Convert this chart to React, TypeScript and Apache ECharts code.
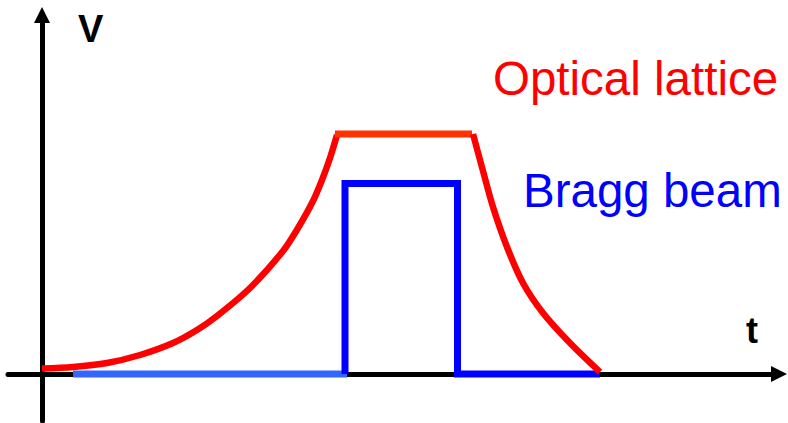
import React, { useEffect, useRef } from "react";
import * as echarts from "echarts";

// Axis ranges (arbitrary units; t = time, V = potential depth)
const T_MIN = -3.4;
const T_MAX = 73.7;
const V_MIN = -4.7;
const V_MAX = 35.9;

// Optical lattice ramp-up (exponential-like)
const latticeRise: [number, number][] = [
  [0, 0.55], [3.1, 0.7], [6.5, 1.1], [9.8, 1.9], [13.1, 3.1], [15.5, 4.4],
  [17.5, 5.8], [20.8, 8.6], [24.1, 12.3], [25.6, 14.6], [27.1, 17.3],
  [28.0, 19.4], [28.8, 21.6], [29.5, 23.9],
];
// Optical lattice plateau
const latticeFlat: [number, number][] = [[29.3, 24.0], [43.0, 24.0]];
// Optical lattice ramp-down
const latticeFall: [number, number][] = [
  [43.1, 24.0], [44.1, 20.3], [45.1, 16.7], [46.5, 12.7], [48.1, 9.1],
  [50.1, 6.1], [52.8, 3.1], [55.8, 0.2],
];
// Bragg beam: off before the pulse
const braggOff: [number, number][] = [[3.1, 0], [30.5, 0]];
// Bragg beam pulse and off afterwards
const braggPulse: [number, number][] = [
  [30.3, 0], [30.3, 19.05], [41.55, 19.05], [41.55, 0], [55.8, 0],
];

const labels = {
  v: "V",
  t: "t",
  lattice: "Optical lattice",
  bragg: "Bragg beam",
};

export default function App() {
  const ref = useRef<HTMLDivElement>(null);
  useEffect(() => {
    if (!ref.current) return;
    const chart = echarts.init(ref.current, null, { renderer: "svg" });
    const axisCommon = {
      type: "value" as const,
      axisLabel: { show: false },
      axisTick: { show: false },
      splitLine: { show: false },
      axisLine: {
        show: true,
        onZero: true,
        symbol: ["none", "triangle"],
        symbolSize: [16, 16],
        lineStyle: { color: "#000", width: 5 },
      },
    };
    const font = "'Liberation Sans', Arial, sans-serif";
    const textEl = (
      x: number,
      y: number,
      text: string,
      fill: string,
      f: string
    ) => ({
      type: "text",
      x,
      y,
      silent: true,
      style: {
        text,
        fill,
        font: f,
        align: "left",
        verticalAlign: "middle",
        textAlign: "left",
        textVerticalAlign: "middle",
      },
    });
    chart.setOption({
      animation: false,
      backgroundColor: "#fff",
      grid: { left: 8, right: 9, top: 15, bottom: 2, containLabel: false },
      xAxis: { ...axisCommon, min: T_MIN, max: T_MAX },
      yAxis: { ...axisCommon, min: V_MIN, max: V_MAX },
      series: [
        {
          type: "line",
          data: braggOff,
          showSymbol: false,
          lineStyle: { color: "#3366ff", width: 7, cap: "butt" },
          z: 3,
        },
        {
          type: "line",
          data: braggPulse,
          showSymbol: false,
          lineStyle: { color: "#0000ff", width: 7, cap: "butt", join: "miter" },
          z: 4,
        },
        {
          type: "line",
          data: latticeRise,
          showSymbol: false,
          smooth: 0.3,
          lineStyle: { color: "#ff0000", width: 6.5, cap: "butt", join: "round" },
          z: 5,
        },
        {
          type: "line",
          data: latticeFlat,
          showSymbol: false,
          lineStyle: { color: "#ff3300", width: 7, cap: "butt" },
          z: 5,
        },
        {
          type: "line",
          data: latticeFall,
          showSymbol: false,
          smooth: 0.3,
          lineStyle: { color: "#ff0000", width: 6.5, cap: "butt", join: "round" },
          z: 5,
        },
      ],
      graphic: [
        textEl(78, 29, labels.v, "#000", `bold 38px ${font}`),
        textEl(746, 330, labels.t, "#000", `bold 36px ${font}`),
        textEl(493, 78, labels.lattice, "#ff0000", `47.5px ${font}`),
        textEl(523, 190, labels.bragg, "#0000ff", `47.5px ${font}`),
      ],
    });
    return () => chart.dispose();
  }, []);
  return (
    <div
      ref={ref}
      style={{ position: "absolute", left: 0, top: 0, width: 788, height: 423 }}
    />
  );
}
